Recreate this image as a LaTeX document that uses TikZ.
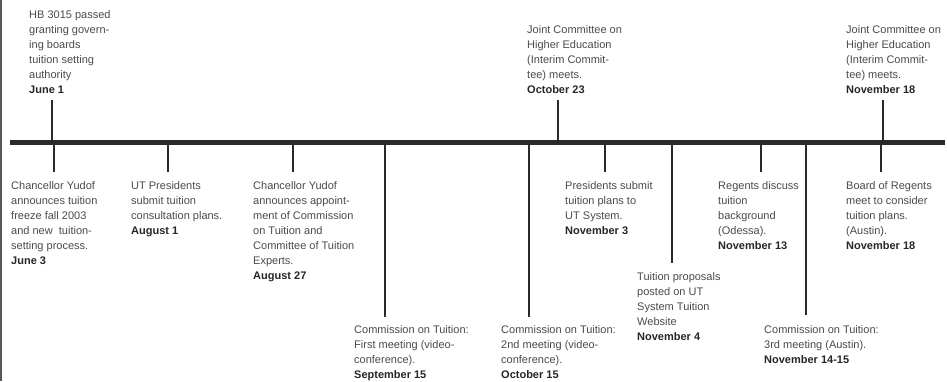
\documentclass[tikz,border=0pt]{standalone}
\usepackage{fontspec}
\setmainfont{Liberation Sans}
\usepackage{tikz}
\usetikzlibrary{calc}

\definecolor{txtgray}{HTML}{4A4A4A}
\definecolor{linegray}{HTML}{2A2A2A}

\tikzset{
    event/.style={anchor=north west, inner sep=0pt, align=left, text=txtgray,
        font=\fontsize{11}{15}\selectfont},
    tick/.style={draw=linegray, line width=2pt},
    axis/.style={draw=linegray, line width=5pt}
}
\newcommand{\evdate}[1]{\textbf{\color{black!85}#1}}

\begin{document}
\begin{tikzpicture}[x=1pt, y=-1pt]
    \useasboundingbox (0,0) rectangle (947,381);
    \draw[draw=black!65, line width=2pt] (1,0) -- (1,381);

    % time axis
    \coordinate (start) at (10,142);
    \coordinate (end) at (945,142);
    \draw[axis] (start) -- (end);

    % events above the axis
    \coordinate (jun1) at (52,142);
    \coordinate (jun1e) at (52,100);
    \node[event] (jun1txt) at (29,10) {HB 3015 passed\\granting govern-\\ing boards\\tuition setting\\authority\\\evdate{June 1}};
    \draw[tick] (jun1) -- (jun1e);

    \coordinate (oct23) at (558,142);
    \coordinate (oct23e) at (558,100);
    \node[event] (oct23txt) at (527,25) {Joint Committee on\\Higher Education\\(Interim Commit-\\tee) meets.\\\evdate{October 23}};
    \draw[tick] (oct23) -- (oct23e);

    \coordinate (nov18t) at (883,142);
    \coordinate (nov18te) at (883,100);
    \node[event] (nov18ttxt) at (846,25) {Joint Committee on\\Higher Education\\(Interim Commit-\\tee) meets.\\\evdate{November 18}};
    \draw[tick] (nov18t) -- (nov18te);

    % events below the axis
    \coordinate (jun3) at (54,142);
    \coordinate (jun3e) at (54,172);
    \node[event] (jun3txt) at (11,181) {Chancellor Yudof\\announces tuition\\freeze fall 2003\\and new\ \ tuition-\\setting process.\\\evdate{June 3}};
    \draw[tick] (jun3) -- (jun3e);

    \coordinate (aug1) at (168,142);
    \coordinate (aug1e) at (168,172);
    \node[event] (aug1txt) at (131,181) {UT Presidents\\submit tuition\\consultation plans.\\\evdate{August 1}};
    \draw[tick] (aug1) -- (aug1e);

    \coordinate (aug27) at (293,142);
    \coordinate (aug27e) at (293,172);
    \node[event] (aug27txt) at (253,181) {Chancellor Yudof\\announces appoint-\\ment of Commission\\on Tuition and\\Committee of Tuition\\Experts.\\\evdate{August 27}};
    \draw[tick] (aug27) -- (aug27e);

    \coordinate (sep15) at (385,142);
    \coordinate (sep15e) at (385,317);
    \node[event] (sep15txt) at (354,325) {Commission on Tuition:\\First meeting (video-\\conference).\\\evdate{September 15}};
    \draw[tick] (sep15) -- (sep15e);

    \coordinate (oct15) at (529,142);
    \coordinate (oct15e) at (529,317);
    \node[event] (oct15txt) at (501,325) {Commission on Tuition:\\2nd meeting (video-\\conference).\\\evdate{October 15}};
    \draw[tick] (oct15) -- (oct15e);

    \coordinate (nov3) at (605,142);
    \coordinate (nov3e) at (605,172);
    \node[event] (nov3txt) at (565,181) {Presidents submit\\tuition plans to\\UT System.\\\evdate{November 3}};
    \draw[tick] (nov3) -- (nov3e);

    \coordinate (nov4) at (672,142);
    \coordinate (nov4e) at (672,263);
    \node[event] (nov4txt) at (637,272) {Tuition proposals\\posted on UT\\System Tuition\\Website\\\evdate{November 4}};
    \draw[tick] (nov4) -- (nov4e);

    \coordinate (nov13) at (761,142);
    \coordinate (nov13e) at (761,172);
    \node[event] (nov13txt) at (718,181) {Regents discuss\\tuition\\background\\(Odessa).\\\evdate{November 13}};
    \draw[tick] (nov13) -- (nov13e);

    \coordinate (nov14) at (806,142);
    \coordinate (nov14e) at (806,315);
    \node[event] (nov14txt) at (764,325) {Commission on Tuition:\\3rd meeting (Austin).\\\evdate{November 14-15}};
    \draw[tick] (nov14) -- (nov14e);

    \coordinate (nov18b) at (881,142);
    \coordinate (nov18be) at (881,172);
    \node[event] (nov18btxt) at (846,181) {Board of Regents\\meet to consider\\tuition plans.\\(Austin).\\\evdate{November 18}};
    \draw[tick] (nov18b) -- (nov18be);
\end{tikzpicture}
\end{document}
